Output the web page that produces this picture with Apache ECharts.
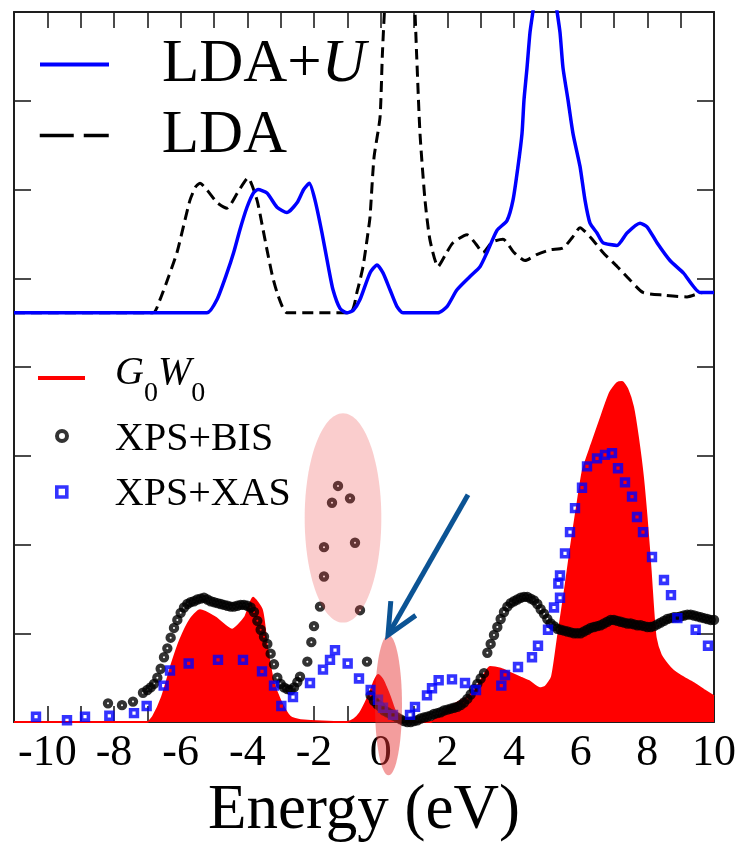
<!DOCTYPE html>
<html>
<head>
<meta charset="utf-8">
<title>Density of states: LDA, LDA+U, G0W0 and spectroscopy</title>
<script src="https://cdn.jsdelivr.net/npm/echarts@6/dist/echarts.min.js"></script>
<style>
  html, body { margin: 0; padding: 0; background: #ffffff; }
  #chart { width: 749px; height: 842px; }
</style>
</head>
<body>
<div id="chart"></div>
<script>
// ---- data -------------------------------------------------------------
// Energy axis (eV) and the labelled ticks
const energyRange = [-11, 10];
const energyTicks = [-10, -8, -6, -4, -2, 0, 2, 4, 6, 8, 10];

// Upper curves are stacked above the lower set; their zero level sits here
const ldaBaseline = 4.61;

// LDA+U density of states [energy, DOS]
const ldaU = [
  [-11, 0], [-5.21, 0], [-4.91, 0.15], [-4.61, 0.45], [-4.41, 0.68], [-4.22, 0.94],
  [-4.01, 1.19], [-3.82, 1.35], [-3.68, 1.39], [-3.41, 1.35], [-3.11, 1.19], [-2.81, 1.13],
  [-2.51, 1.24], [-2.31, 1.39], [-2.14, 1.46], [-1.97, 1.27], [-1.76, 0.90], [-1.57, 0.52],
  [-1.43, 0.26], [-1.22, 0.05], [-1.01, 0], [-0.82, 0.03], [-0.62, 0.15], [-0.32, 0.45],
  [-0.11, 0.54], [0.07, 0.45], [0.28, 0.26], [0.49, 0.07], [0.67, 0], [1.72, 0],
  [1.99, 0.07], [2.29, 0.26], [2.68, 0.41], [2.98, 0.52], [3.19, 0.68], [3.49, 0.93],
  [3.79, 1.04], [3.97, 1.27], [4.12, 1.65], [4.24, 2.02], [4.30, 2.40], [4.39, 2.76],
  [4.48, 3.16], [4.57, 3.40], [4.75, 3.9], [5.1, 3.9], [5.29, 3.40], [5.38, 3.16],
  [5.47, 2.76], [5.62, 2.40], [5.77, 2.02], [5.98, 1.65], [6.13, 1.27], [6.28, 1.01],
  [6.49, 0.90], [6.67, 0.79], [7.09, 0.76], [7.39, 0.90], [7.78, 1.01], [7.99, 0.97],
  [8.29, 0.79], [8.68, 0.59], [9.08, 0.45], [9.58, 0.23], [10, 0.23]
];

// LDA density of states [energy, DOS]
const lda = [
  [-11, 0], [-6.83, 0], [-6.62, 0.15], [-6.35, 0.42], [-6.11, 0.68], [-5.9, 1.0],
  [-5.72, 1.27], [-5.55, 1.42], [-5.42, 1.46], [-5.2, 1.38], [-4.9, 1.24], [-4.61, 1.18],
  [-4.3, 1.35], [-3.98, 1.52], [-3.71, 1.27], [-3.55, 0.98], [-3.41, 0.71], [-3.25, 0.42],
  [-3.11, 0.23], [-2.95, 0.07], [-2.81, 0], [-0.92, 0], [-0.7, 0.25], [-0.53, 0.52],
  [-0.4, 0.85], [-0.32, 1.08], [-0.2, 1.75], [-0.02, 2.2], [0.05, 2.9], [0.13, 3.5],
  [0.55, 5.5], [1.0, 3.6], [1.08, 2.9], [1.18, 2.02], [1.33, 1.27], [1.48, 0.82],
  [1.72, 0.52], [1.95, 0.66], [2.17, 0.79], [2.59, 0.88], [2.85, 0.78], [3.07, 0.68],
  [3.35, 0.80], [3.67, 0.83], [4.0, 0.68], [4.33, 0.59], [4.7, 0.66], [5.08, 0.71],
  [5.47, 0.73], [5.75, 0.85], [5.98, 0.96], [6.3, 0.85], [6.67, 0.68], [7.1, 0.52],
  [7.48, 0.37], [7.87, 0.23], [8.5, 0.20], [9.19, 0.18], [9.67, 0.23], [10, 0.23]
];

// G0W0 spectral function [energy, DOS]
const g0w0 = [
  [-11, 0], [-7.0, 0], [-6.83, 0.06], [-6.56, 0.28], [-6.26, 0.66], [-6.02, 0.92],
  [-5.72, 1.15], [-5.42, 1.26], [-4.97, 1.18], [-4.46, 1.04], [-4.07, 1.18], [-3.83, 1.40],
  [-3.56, 1.26], [-3.41, 0.85], [-3.23, 0.47], [-3.02, 0.25], [-2.72, 0.06], [-2.4, 0.02],
  [-1.0, 0], [-0.8, 0.03], [-0.62, 0.10], [-0.45, 0.22], [-0.32, 0.33], [-0.2, 0.45],
  [-0.08, 0.53], [0.05, 0.48], [0.15, 0.40], [0.28, 0.28], [0.4, 0.15], [0.52, 0.06],
  [0.65, 0.01], [0.8, 0], [1.5, 0], [1.69, 0.05], [2.08, 0.17], [2.59, 0.28],
  [2.85, 0.38], [3.07, 0.51], [3.28, 0.62], [3.6, 0.60], [3.9, 0.55], [4.2, 0.50],
  [4.45, 0.46], [4.78, 0.38], [4.95, 0.40], [5.14, 0.51], [5.32, 0.96], [5.53, 1.49],
  [5.7, 1.95], [5.88, 2.40], [6.07, 2.84], [6.35, 3.15], [6.58, 3.40], [6.88, 3.71],
  [7.1, 3.82], [7.24, 3.83], [7.4, 3.75], [7.57, 3.55], [7.72, 3.20], [7.87, 2.75],
  [8.0, 2.20], [8.1, 1.70], [8.17, 1.30], [8.25, 0.95], [8.4, 0.76], [8.6, 0.65],
  [8.77, 0.58], [9.0, 0.52], [9.37, 0.44], [9.7, 0.36], [10, 0.29]
];

// XPS+BIS measured spectrum [energy, intensity]
const xpsBis = [
  [-8.18, 0.21], [-7.76, 0.19], [-7.43, 0.23], [-7.13, 0.33],
  [-7.0, 0.36], [-6.9, 0.39], [-6.8, 0.43], [-6.7, 0.50], [-6.6, 0.60], [-6.5, 0.73],
  [-6.4, 0.83], [-6.3, 0.95], [-6.2, 1.06], [-6.1, 1.15], [-6.0, 1.23], [-5.9, 1.29],
  [-5.8, 1.33], [-5.7, 1.35], [-5.6, 1.36], [-5.5, 1.38], [-5.4, 1.39], [-5.3, 1.40],
  [-5.2, 1.38], [-5.1, 1.36], [-5.0, 1.35], [-4.9, 1.34], [-4.8, 1.33], [-4.7, 1.32],
  [-4.6, 1.31], [-4.5, 1.30], [-4.4, 1.30], [-4.3, 1.31], [-4.2, 1.32], [-4.1, 1.32],
  [-4.0, 1.31], [-3.9, 1.29], [-3.8, 1.24], [-3.7, 1.14], [-3.6, 1.04], [-3.5, 0.96],
  [-3.4, 0.88], [-3.3, 0.77], [-3.2, 0.65], [-3.1, 0.50], [-3.0, 0.43], [-2.9, 0.39],
  [-2.8, 0.37], [-2.7, 0.36], [-2.6, 0.39], [-2.5, 0.45],
  [-2.42, 0.51], [-2.2, 0.68], [-2.08, 0.90], [-2.0, 1.08], [-1.82, 1.30], [-1.70, 1.64],
  [-1.70, 1.97], [-1.46, 2.47], [-1.28, 2.66], [-0.92, 2.52], [-0.77, 2.02], [-0.62, 1.26],
  [-0.41, 0.68],
  [-0.3, 0.30], [-0.2, 0.24], [-0.1, 0.20], [0.0, 0.17], [0.1, 0.13], [0.2, 0.11],
  [0.3, 0.09], [0.4, 0.07], [0.5, 0.05], [0.6, 0.03], [0.7, 0.01], [0.8, 0.00],
  [0.9, 0.00], [1.0, 0.01], [1.1, 0.02], [1.2, 0.04], [1.3, 0.05], [1.4, 0.06],
  [1.5, 0.07], [1.6, 0.09], [1.7, 0.10], [1.8, 0.11], [1.9, 0.13], [2.0, 0.14],
  [2.1, 0.15], [2.2, 0.16], [2.3, 0.17], [2.4, 0.19], [2.5, 0.22], [2.6, 0.26],
  [2.7, 0.31], [2.8, 0.37], [2.9, 0.43], [3.0, 0.49], [3.1, 0.55],
  [3.2, 0.78], [3.3, 0.88], [3.4, 0.98], [3.5, 1.07], [3.6, 1.16], [3.7, 1.24],
  [3.8, 1.30], [3.9, 1.34], [4.0, 1.36], [4.1, 1.38], [4.2, 1.40], [4.3, 1.41],
  [4.4, 1.41], [4.5, 1.39], [4.6, 1.37], [4.7, 1.33], [4.8, 1.27], [4.9, 1.22],
  [5.0, 1.16], [5.1, 1.11], [5.2, 1.08], [5.3, 1.05], [5.4, 1.04], [5.5, 1.03],
  [5.6, 1.02], [5.7, 1.01], [5.8, 1.00], [5.9, 1.00], [6.0, 1.00], [6.1, 1.02],
  [6.2, 1.04], [6.3, 1.06], [6.4, 1.07], [6.5, 1.08], [6.6, 1.09], [6.7, 1.11],
  [6.8, 1.13], [6.9, 1.15], [7.0, 1.15], [7.1, 1.14], [7.2, 1.13], [7.3, 1.12],
  [7.4, 1.11], [7.5, 1.11], [7.6, 1.10], [7.7, 1.09], [7.8, 1.09], [7.9, 1.08],
  [8.0, 1.07], [8.1, 1.07], [8.2, 1.08], [8.3, 1.10], [8.4, 1.12], [8.5, 1.14],
  [8.6, 1.16], [8.7, 1.17], [8.8, 1.18], [8.9, 1.18], [9.0, 1.19], [9.1, 1.20],
  [9.2, 1.21], [9.3, 1.21], [9.4, 1.20], [9.5, 1.19], [9.6, 1.18], [9.7, 1.17],
  [9.8, 1.16], [9.9, 1.15], [10.0, 1.15]
];

// XPS+XAS measured spectrum [energy, intensity]
const xpsXas = [
  [-10.34, 0.06], [-9.41, 0.02], [-8.87, 0.06], [-8.14, 0.07], [-7.40, 0.10], [-7.02, 0.18],
  [-6.51, 0.41], [-6.32, 0.58], [-5.76, 0.66], [-4.88, 0.70], [-4.13, 0.70], [-3.56, 0.57],
  [-3.20, 0.41], [-2.98, 0.18], [-2.63, 0.28], [-2.12, 0.44], [-1.73, 0.59], [-1.52, 0.70],
  [-1.37, 0.81], [-0.99, 0.66], [-0.65, 0.49], [-0.30, 0.36], [-0.08, 0.25], [0.07, 0.16],
  [0.37, 0.08], [0.88, 0.08], [1.03, 0.17], [1.39, 0.30], [1.54, 0.38], [1.74, 0.47],
  [2.14, 0.48], [2.53, 0.44], [2.86, 0.36], [3.62, 0.41], [3.73, 0.53], [4.12, 0.62],
  [4.54, 0.73], [4.72, 0.86], [5.02, 1.04], [5.20, 1.29], [5.38, 1.40], [5.33, 1.56],
  [5.38, 1.65], [5.53, 1.90], [5.68, 2.14], [5.83, 2.41], [6.04, 2.64], [6.19, 2.88],
  [6.49, 2.97], [6.73, 3.01], [6.94, 3.03], [7.12, 2.86], [7.33, 2.70], [7.54, 2.54],
  [7.69, 2.31], [7.87, 2.14], [8.14, 1.86], [8.50, 1.60], [8.71, 1.43], [8.90, 1.17],
  [9.45, 1.04], [9.82, 0.86]
];

// Highlight marks, in data units: ellipses [centerE, centerY, radiusE, radiusY]
const gapEllipse = [-1.13, 2.30, 1.15, 1.18];
const fermiEllipse = [0.235, 0.19, 0.405, 0.79];
// Arrow [tailE, tailY, tipE, tipY]
const fermiArrow = [2.62, 2.56, 0.22, 0.98];

// ---- chart ------------------------------------------------------------
const serif = '"Liberation Serif", "DejaVu Serif", "Times New Roman", serif';
const axisColor = '#1e1e1e';
const chart = echarts.init(document.getElementById('chart'), null, { renderer: 'canvas' });

const raised = pts => pts.map(([e, v]) => [e, v + ldaBaseline]);

const frameAxis = (extra) => Object.assign({
  type: 'value',
  gridIndex: 0,
  axisLine: { show: true, onZero: false, lineStyle: { color: axisColor, width: 2 } },
  axisTick: { show: true, inside: true, length: 17, lineStyle: { color: axisColor, width: 1.6 } },
  axisLabel: { show: false },
  splitLine: { show: false }
}, extra);

const legendText = (size) => ({
  fontFamily: serif, fontSize: size, color: '#000', lineHeight: size
});

// line legends: draw only the stroke sample, no marker in its middle
const lineOnly = { opacity: 0, borderWidth: 0 };

const option = {
  animation: false,
  backgroundColor: '#ffffff',
  grid: { left: 14, right: 35, top: 12, bottom: 120, containLabel: false, outerBoundsMode: 'none' },
  xAxis: [
    frameAxis({
      position: 'bottom',
      min: energyRange[0], max: energyRange[1], interval: 1,
      axisTick: { show: true, inside: true, length: 16, lineStyle: { color: axisColor, width: 1.6 } },
      axisLabel: {
        show: true, showMinLabel: true, showMaxLabel: true,
        formatter: v => (energyTicks.includes(v) ? String(v) : ''),
        fontFamily: serif, fontSize: 44, color: '#000', margin: 9
      },
      name: 'Energy (eV)', nameLocation: 'middle', nameGap: 31,
      nameTextStyle: { fontFamily: serif, fontSize: 63, color: '#000' }
    }),
    frameAxis({
      position: 'top',
      min: energyRange[0], max: energyRange[1], interval: 1,
      axisTick: { show: true, inside: true, length: 16, lineStyle: { color: axisColor, width: 1.6 } }
    })
  ],
  yAxis: [
    frameAxis({ position: 'left', min: 0, max: 8, interval: 1 }),
    frameAxis({ position: 'right', min: 0, max: 8, interval: 1 })
  ],
  legend: [
    {
      data: ['LDA+U'], left: 38, top: 34, padding: 0, orient: 'vertical',
      itemWidth: 69, itemHeight: 12, selectedMode: false,
      formatter: () => '{gap|}{n|LDA+}{i|U}',
      lineStyle: { width: 4 },
      itemStyle: lineOnly,
      textStyle: Object.assign(legendText(61), {
        rich: { gap: { width: 48 }, n: legendText(61), i: Object.assign(legendText(61), { fontStyle: 'italic' }) }
      })
    },
    {
      data: ['LDA'], left: 38, top: 105, padding: 0, orient: 'vertical',
      itemWidth: 69, itemHeight: 12, selectedMode: false,
      formatter: () => '{gap|}{n|LDA}',
      lineStyle: { width: 3.5, type: [34, 10] },
      itemStyle: lineOnly,
      textStyle: Object.assign(legendText(61), {
        rich: { gap: { width: 48 }, n: legendText(61) }
      })
    },
    {
      data: ['G0W0'], left: 36, top: 348, padding: 0, orient: 'vertical',
      itemWidth: 47, itemHeight: 10, selectedMode: false,
      formatter: () => '{gap|}{i|G}{s|0}{i|W}{s|0}',
      lineStyle: { width: 4 },
      itemStyle: lineOnly,
      textStyle: Object.assign(legendText(40), {
        rich: {
          gap: { width: 25 },
          i: Object.assign(legendText(40), { fontStyle: 'italic', padding: [0, 0, 10, 0] }),
          s: Object.assign(legendText(28), { padding: [32, 0, 0, 0] })
        }
      })
    },
    {
      data: ['XPS+BIS'], left: 55, top: 413, padding: 0, orient: 'vertical',
      itemWidth: 10, itemHeight: 10, selectedMode: false,
      formatter: () => '{gap|}{n|XPS+BIS}',
      itemStyle: { color: 'rgba(0,0,0,0)', borderColor: '#000', borderWidth: 4 },
      textStyle: Object.assign(legendText(40), {
        rich: { gap: { width: 43 }, n: Object.assign(legendText(40), { padding: [6, 0, 0, 0] }) }
      })
    },
    {
      data: ['XPS+XAS'], left: 55, top: 470, padding: 0, orient: 'vertical',
      itemWidth: 10, itemHeight: 10, selectedMode: false,
      formatter: () => '{gap|}{n|XPS+XAS}',
      itemStyle: { color: 'rgba(0,0,0,0)', borderColor: '#0000ff', borderWidth: 3.6 },
      textStyle: Object.assign(legendText(40), {
        rich: { gap: { width: 43 }, n: Object.assign(legendText(40), { padding: [4, 0, 0, 0] }) }
      })
    }
  ],
  series: [
    {
      name: 'G0W0', type: 'line', data: g0w0, z: 1,
      xAxisIndex: 0, yAxisIndex: 0,
      symbol: 'none', smooth: 0.2,
      lineStyle: { color: '#ff0000', width: 2 },
      areaStyle: { color: '#ff0000', opacity: 1, origin: 'start' },
      itemStyle: { color: '#ff0000' }
    },
    {
      name: 'LDA', type: 'line', data: raised(lda), z: 3,
      xAxisIndex: 0, yAxisIndex: 0,
      symbol: 'none', smooth: 0.2,
      lineStyle: { color: '#000000', width: 3, type: [11, 6] },
      itemStyle: { color: '#000000' }
    },
    {
      name: 'LDA+U', type: 'line', data: raised(ldaU), z: 4,
      xAxisIndex: 0, yAxisIndex: 0,
      symbol: 'none', smooth: 0.2,
      lineStyle: { color: '#0000ff', width: 3.5 },
      itemStyle: { color: '#0000ff' }
    },
    {
      name: 'XPS+BIS', type: 'scatter', data: xpsBis, z: 5,
      xAxisIndex: 0, yAxisIndex: 0,
      symbol: 'circle', symbolSize: 6.2,
      itemStyle: { color: 'rgba(0,0,0,0)', borderColor: '#000000', borderWidth: 4.2 }
    },
    {
      name: 'XPS+XAS', type: 'scatter', data: xpsXas, z: 6,
      xAxisIndex: 0, yAxisIndex: 0,
      symbol: 'rect', symbolSize: 6.8,
      itemStyle: { color: 'rgba(0,0,0,0)', borderColor: '#0000ff', borderWidth: 3.6 }
    }
  ]
};

chart.setOption(option);

// ---- highlight marks, placed through the axis scales -------------------
const toPx = (e, v) => chart.convertToPixel({ xAxisIndex: 0, yAxisIndex: 0 }, [e, v]);

function ellipseShape([ce, cv, re, rv]) {
  const c = toPx(ce, cv);
  const ex = toPx(ce + re, cv);
  const ey = toPx(ce, cv + rv);
  return { cx: c[0], cy: c[1], rx: Math.abs(ex[0] - c[0]), ry: Math.abs(c[1] - ey[1]) };
}

function arrowParts([te, tv, he, hv]) {
  const tail = toPx(te, tv);
  const tip = toPx(he, hv);
  const back = Math.atan2(tail[1] - tip[1], tail[0] - tip[0]);
  const len = 34, spread = 25 * Math.PI / 180;
  const w1 = [tip[0] + len * Math.cos(back - spread), tip[1] + len * Math.sin(back - spread)];
  const w2 = [tip[0] + len * Math.cos(back + spread), tip[1] + len * Math.sin(back + spread)];
  return { shaft: [tail, tip], head: [w1, tip, w2] };
}

const arrow = arrowParts(fermiArrow);
const arrowColor = '#0b5394';

chart.setOption({
  graphic: [
    {
      type: 'ellipse', z: 100, silent: true,
      shape: ellipseShape(gapEllipse),
      style: { fill: 'rgba(235, 60, 60, 0.26)' }
    },
    {
      type: 'ellipse', z: 100, silent: true,
      shape: ellipseShape(fermiEllipse),
      style: { fill: 'rgba(230, 50, 50, 0.48)' }
    },
    {
      type: 'polyline', z: 101, silent: true,
      shape: { points: arrow.shaft },
      style: { stroke: arrowColor, lineWidth: 5, fill: null, lineCap: 'butt' }
    },
    {
      type: 'polyline', z: 101, silent: true,
      shape: { points: arrow.head },
      style: { stroke: arrowColor, lineWidth: 5, fill: null, lineCap: 'butt', lineJoin: 'miter' }
    }
  ]
});
</script>
</body>
</html>
